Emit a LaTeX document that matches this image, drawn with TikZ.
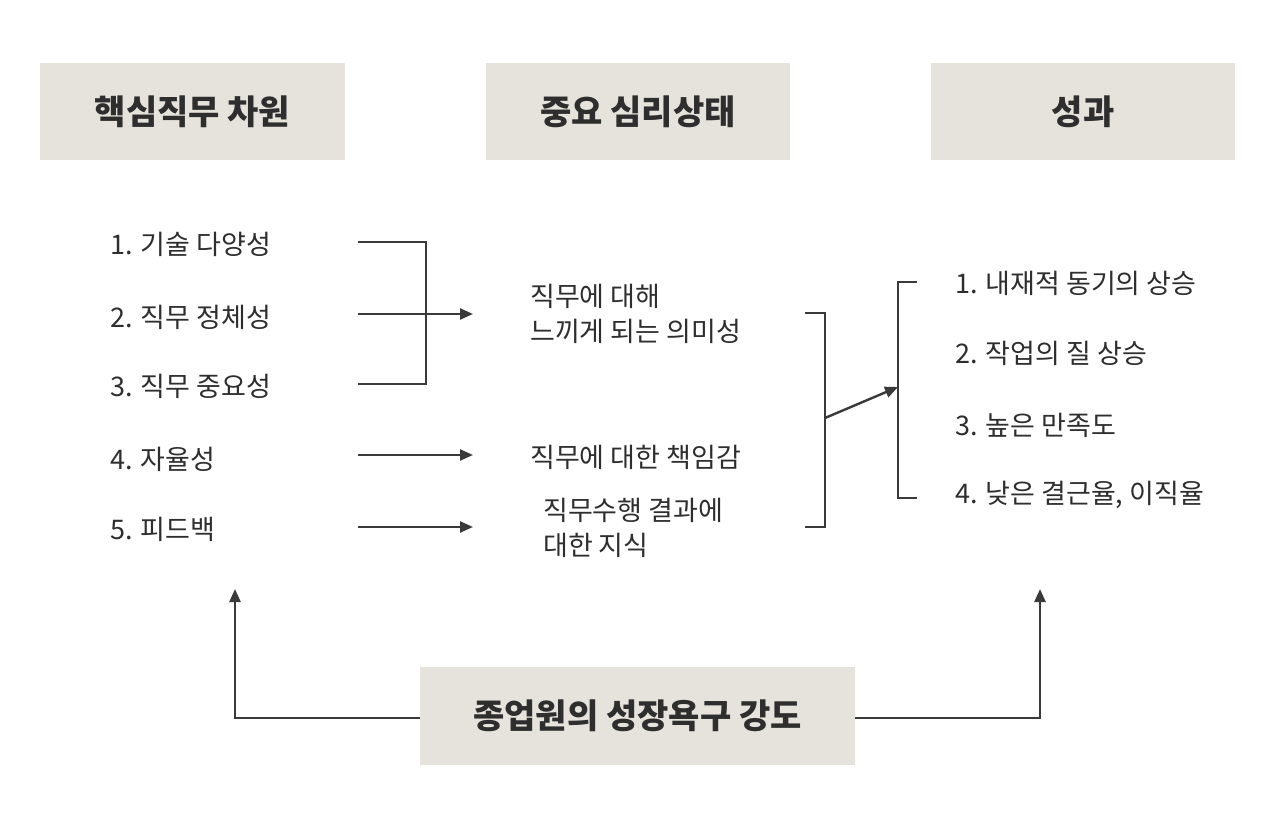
\documentclass[tikz,border=0pt]{standalone}
\usepackage{fontspec}
\setmainfont{Noto Sans CJK KR}
\usetikzlibrary{arrows.meta}
\definecolor{boxbg}{HTML}{E6E3DC}
\definecolor{ink}{HTML}{2E2E2E}
\definecolor{lineink}{HTML}{3A3A3A}
\begin{document}
\begin{tikzpicture}[x=1pt,y=-1pt,
  hdr/.style={fill=boxbg,draw=none,inner sep=0pt,font=\fontsize{34}{40}\selectfont\bfseries,text=ink},
  item/.style={anchor=west,inner sep=0pt,font=\fontsize{27}{35}\selectfont,text=ink,align=left},
  conn/.style={draw=lineink,line width=2.4pt},
  arr/.style={conn,-{Triangle[length=13pt,width=11pt]}}]
\useasboundingbox (0,0) rectangle (1280,821);
\fill[white] (0,0) rectangle (1280,821);
% header boxes
\node[hdr,minimum width=305pt,minimum height=97pt] (h1) at (192.5,111.5) {핵심직무 차원};
\node[hdr,minimum width=304pt,minimum height=97pt] (h2) at (638,111.5) {중요 심리상태};
\node[hdr,minimum width=304pt,minimum height=97pt] (h3) at (1083,111.5) {성과};
\node[hdr,minimum width=435pt,minimum height=98pt] (g) at (637.5,716) {종업원의 성장욕구 강도};
% left items
\node[item] (l1) at (110,244) {1. 기술 다양성};
\node[item] (l2) at (110,317) {2. 직무 정체성};
\node[item] (l3) at (110,386) {3. 직무 중요성};
\node[item] (l4) at (110,459) {4. 자율성};
\node[item] (l5) at (110,529) {5. 피드백};
% middle items
\node[item] (m1) at (530,314) {직무에 대해\\느끼게 되는 의미성};
\node[item] (m2) at (530,457) {직무에 대한 책임감};
\node[item] (m3) at (543,528) {직무수행 결과에\\대한 지식};
% right items
\node[item] (r1) at (955,283) {1. 내재적 동기의 상승};
\node[item] (r2) at (955,353) {2. 작업의 질 상승};
\node[item] (r3) at (955,425) {3. 높은 만족도};
\node[item] (r4) at (955,495) {4. 낮은 결근율, 이직율};
% coordinates
\coordinate (a1) at (358,242);
\coordinate (a2) at (358,314);
\coordinate (a3) at (358,384);
\coordinate (a4) at (358,455);
\coordinate (a5) at (358,527);
\coordinate (bx) at (426,242);
\coordinate (by) at (426,384);
\coordinate (t1) at (473,314);
\coordinate (t4) at (473,455);
\coordinate (t5) at (473,527);
\coordinate (mb1) at (805,313);
\coordinate (mb2) at (805,527);
\coordinate (mbm) at (825,418);
\coordinate (rb1) at (917,282);
\coordinate (rb2) at (917,498);
\coordinate (rbm) at (898,387);
\coordinate (up1) at (235,589);
\coordinate (up2) at (1040,589);
% left bracket
\draw[conn] (a1) -- (bx) -- (by) -- (a3);
\draw[arr] (a2) -- (t1);
\draw[arr] (a4) -- (t4);
\draw[arr] (a5) -- (t5);
% middle bracket
\draw[conn] (mb1) -| (mbm) |- (mb2);
% right bracket
\draw[conn] (rb1) -| (rbm) |- (rb2);
\draw[arr] (mbm) -- (rbm);
% bottom arrows
\draw[arr] (g.west |- 0,718) -| (up1);
\draw[arr] (g.east |- 0,718) -| (up2);
\end{tikzpicture}
\end{document}
